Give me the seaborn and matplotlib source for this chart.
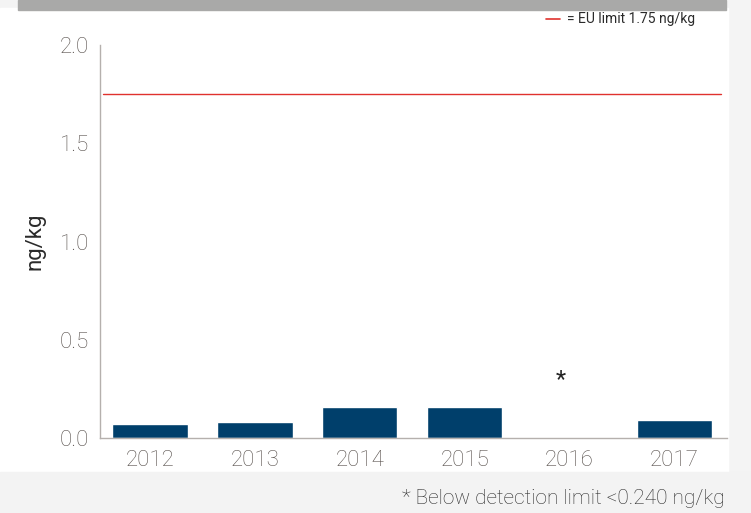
import matplotlib
matplotlib.use("Agg")
import matplotlib.pyplot as plt
from matplotlib.patches import Rectangle
import seaborn as sns
import pandas as pd

years = ["2012", "2013", "2014", "2015", "2016", "2017"]
values = [0.07, 0.08, 0.16, 0.16, 0.0, 0.09]
below_detection = ["2016"]
eu_limit = 1.75
y_ticks = [0.0, 0.5, 1.0, 1.5, 2.0]

sns.set_theme(style="white")
plt.rcParams["font.family"] = ["Roboto", "DejaVu Sans"]

df = pd.DataFrame({"year": years, "value": values})

W, H = 751, 513
fig = plt.figure(figsize=(W / 100, H / 100), dpi=100, facecolor="white")

# page backdrop: grey header strip and pale margins around the white panel
bg = fig.add_axes([0, 0, 1, 1], zorder=-10)
bg.set_xlim(0, W)
bg.set_ylim(H, 0)
bg.axis("off")
bg.add_patch(Rectangle((0, 0), W, H, color="#f4f4f4"))
bg.add_patch(Rectangle((0, 8), 728, 464, color="white"))
bg.add_patch(Rectangle((18, 0), 708, 10, color="#a9a9a8"))
bg.add_patch(Rectangle((0, 472), W, H - 472, color="#f3f3f3"))

ax = fig.add_axes([100 / W, (H - 438) / H, (727 - 100) / W, (438 - 45) / H])
ax.set_facecolor("none")

sns.barplot(data=df, x="year", y="value", color="#003f6b", width=0.72,
            saturation=1, ax=ax, zorder=2)

ax.axhline(eu_limit, xmin=0.005, xmax=0.99, color="#e0322e", lw=1.0, zorder=3)

for i, yr in enumerate(years):
    if yr in below_detection:
        ax.text(i - 0.08, 0.3, "*", ha="center", va="center", fontsize=17,
                color="#222222")

ax.set_xlim(-0.475, 5.5)
ax.set_ylim(0, 2.0)
ax.set_yticks(y_ticks)
ax.set_yticklabels([f"{t:.1f}" for t in y_ticks])
ax.tick_params(axis="both", length=0, labelsize=16, labelcolor="#57504c")
ax.tick_params(axis="y", pad=8)
ax.tick_params(axis="x", pad=9)
for lab in ax.get_xticklabels() + ax.get_yticklabels():
    lab.set_fontweight("light")

ax.set_xlabel("")
ax.set_ylabel("ng/kg", fontsize=16, color="#2a2a2a", labelpad=10)

for side in ["top", "right"]:
    ax.spines[side].set_visible(False)
for side in ["left", "bottom"]:
    ax.spines[side].set_color("#b5b0ad")
    ax.spines[side].set_linewidth(1.0)

# legend key for the limit line
fig.add_artist(plt.Line2D([546 / W, 560 / W], [1 - 19 / H, 1 - 19 / H],
                          color="#e0322e", lw=1.2))
fig.text(567 / W, 1 - 19 / H, "= EU limit 1.75 ng/kg", fontsize=10,
         color="#2a2a2a", va="center", ha="left")

fig.text(725 / W, 1 - 498 / H, "* Below detection limit <0.240 ng/kg",
         fontsize=15, color="#2a2a2a", va="center", ha="right",
         fontweight="light")

fig.savefig("out.png", dpi=100, facecolor=fig.get_facecolor())
